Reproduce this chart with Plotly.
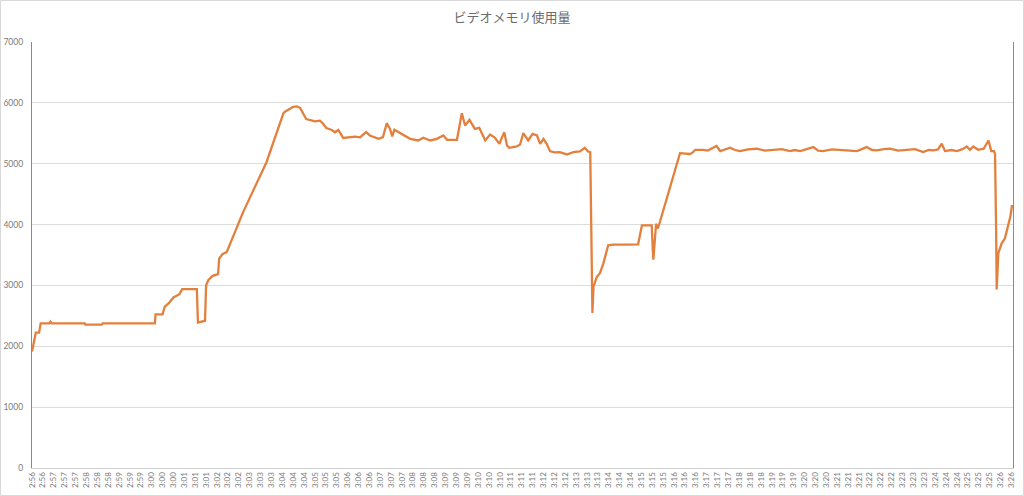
import plotly.graph_objects as go

# Seconds elapsed since 2:56:20 (first category label) and video memory usage (MB)
SECONDS = [
    0, 4, 7, 13, 16, 32, 34, 36, 60, 97, 98, 128, 130, 180, 226, 227, 240, 244, 251, 260,
    266, 271, 276, 303, 305, 310, 318, 320, 324, 332, 342, 344, 350, 358, 388, 431, 462, 465,
    480, 487, 493, 504, 511, 520, 529, 534, 541, 551, 557, 563, 572, 581, 594, 603,
    614, 621, 637, 645, 652, 658, 662, 666, 676, 695, 710, 719, 732, 744, 756, 763, 781,
    790, 796, 804, 814, 822, 833, 842, 851, 859, 868, 873, 877, 891, 897, 903, 912, 920,
    928, 934, 940, 946, 952, 960, 970, 983, 995, 1007, 1016, 1022, 1026, 1027, 1030, 1032,
    1038, 1044, 1050, 1059, 1068, 1093, 1114, 1121, 1139, 1141, 1142, 1147, 1150, 1154,
    1191, 1209, 1213, 1219, 1222, 1228, 1234, 1242, 1249, 1258, 1265, 1274, 1283, 1292,
    1301, 1316, 1332, 1347, 1363, 1378, 1393, 1402, 1412, 1424, 1436, 1445, 1454, 1470,
    1485, 1500, 1516, 1525, 1534, 1544, 1553, 1565, 1577, 1592, 1608, 1623, 1638, 1648,
    1657, 1665, 1672, 1678, 1690, 1700, 1710, 1718, 1724, 1730, 1739, 1749, 1758, 1763,
    1768, 1770, 1772, 1773, 1776, 1782, 1788, 1794, 1798, 1801, 1804,
]
MEMORY_MB = [
    1913, 2131, 2224, 2224, 2377, 2377, 2404, 2377, 2380, 2377, 2355, 2355, 2377, 2380, 2377, 2524, 2524, 2650, 2704, 2802,
    2830, 2857, 2939, 2939, 2390, 2400, 2420, 3004, 3086, 3157, 3185, 3441, 3512, 3550, 4205, 5024, 5827, 5854,
    5936, 5941, 5914, 5734, 5718, 5696, 5707, 5668, 5587, 5554, 5516, 5554, 5423, 5434, 5445, 5433,
    5519, 5464, 5409, 5437, 5666, 5573, 5448, 5557, 5502, 5409, 5382, 5426, 5382, 5409, 5464, 5393, 5393,
    5830, 5628, 5721, 5573, 5590, 5382, 5480, 5426, 5327, 5519, 5300, 5262, 5283, 5316, 5502, 5382, 5491,
    5464, 5327, 5409, 5327, 5207, 5185, 5190, 5152, 5190, 5201, 5262, 5201, 5190, 4616, 2548, 2975,
    3139, 3205, 3358, 3659, 3670, 3670, 3675, 3987, 3987, 3577, 3424, 4014, 3932, 4042,
    5174, 5160, 5174, 5229, 5229, 5218, 5229, 5215, 5246, 5290, 5208, 5240, 5262, 5225,
    5208, 5235, 5246, 5215, 5229, 5240, 5208, 5225, 5208, 5240, 5273, 5215, 5208, 5235,
    5229, 5212, 5208, 5240, 5273, 5225, 5219, 5240, 5246, 5215, 5229, 5240, 5191, 5225,
    5219, 5235, 5328, 5208, 5225, 5208, 5240, 5284, 5229, 5284, 5229, 5246, 5382, 5208,
    5208, 5164, 3907, 2935, 3525, 3689, 3771, 3962, 4126, 4301, 4301,
]

TICK_SECONDS = list(range(0, 1801, 20))
TICK_LABELS = [
    "2:56", "2:56",
    "2:57", "2:57", "2:57", "2:58", "2:58", "2:58", "2:59", "2:59", "2:59",
    "3:00", "3:00", "3:00", "3:01", "3:01", "3:01", "3:02", "3:02", "3:02",
    "3:03", "3:03", "3:03", "3:04", "3:04", "3:04", "3:05", "3:05", "3:05",
    "3:06", "3:06", "3:06", "3:07", "3:07", "3:07", "3:08", "3:08", "3:08",
    "3:09", "3:09", "3:09", "3:10", "3:10", "3:10", "3:11", "3:11", "3:11",
    "3:12", "3:12", "3:12", "3:13", "3:13", "3:13", "3:14", "3:14", "3:14",
    "3:15", "3:15", "3:15", "3:16", "3:16", "3:16", "3:17", "3:17", "3:17",
    "3:18", "3:18", "3:18", "3:19", "3:19", "3:19", "3:20", "3:20", "3:20",
    "3:21", "3:21", "3:21", "3:22", "3:22", "3:22", "3:23", "3:23", "3:23",
    "3:24", "3:24", "3:24", "3:25", "3:25", "3:25",
    "3:26", "3:26",
]
Y_TICKS = [0, 1000, 2000, 3000, 4000, 5000, 6000, 7000]

TITLE = "ビデオメモリ使用量"

W, H = 1024, 496
ML, MR, MT, MB = 32, 11, 42, 28
PW, PH = W - ML - MR, H - MT - MB

fig = go.Figure()
fig.add_trace(go.Scatter(
    x=SECONDS, y=MEMORY_MB, mode="lines",
    line=dict(color="#E3803D", width=2.3),
    hoverinfo="x+y", showlegend=False,
))

fig.update_layout(
    width=W, height=H,
    margin=dict(l=ML, r=MR, t=MT, b=MB, autoexpand=False),
    paper_bgcolor="white", plot_bgcolor="white",
    title=dict(text=TITLE, x=0.5, xanchor="center", y=1 - 17 / H, yanchor="middle",
               font=dict(family="Noto Sans CJK JP", size=13, color="#6b6b6b")),
    font=dict(family="Lato, Liberation Sans, sans-serif", color="#7a7a7a"),
    xaxis=dict(
        range=[0, 1803], tickmode="array", tickvals=TICK_SECONDS, ticktext=TICK_LABELS,
        tickangle=-90, tickfont=dict(size=8, color="#7a7a7a"),
        showgrid=False, zeroline=False, showline=True, linecolor="#d0d0d0", linewidth=1,
        ticks="", automargin=False,
    ),
    yaxis=dict(
        range=[0, 7000], tickmode="array", tickvals=Y_TICKS, tickformat="d",
        tickfont=dict(size=8.5, color="#7a7a7a"),
        showgrid=True, gridcolor="#dcdcdc", gridwidth=1, zeroline=False,
        showline=True, linecolor="#8a8a8a", linewidth=1.3, mirror=True,
        ticks="", ticklabelstandoff=6, automargin=False,
    ),
    shapes=[
        dict(type="rect", xref="paper", yref="paper",
             x0=(0.5 - ML) / PW, x1=(W - 0.5 - ML) / PW,
             y0=(MT + PH - (H - 0.5)) / PH, y1=(MT + PH - 0.5) / PH,
             line=dict(color="#d9d9d9", width=1), layer="below"),
    ],
)

fig.write_html(
    "out.html",
    config={"displayModeBar": False},
    post_script="document.body.style.margin='0';document.body.style.overflow='hidden';",
)
